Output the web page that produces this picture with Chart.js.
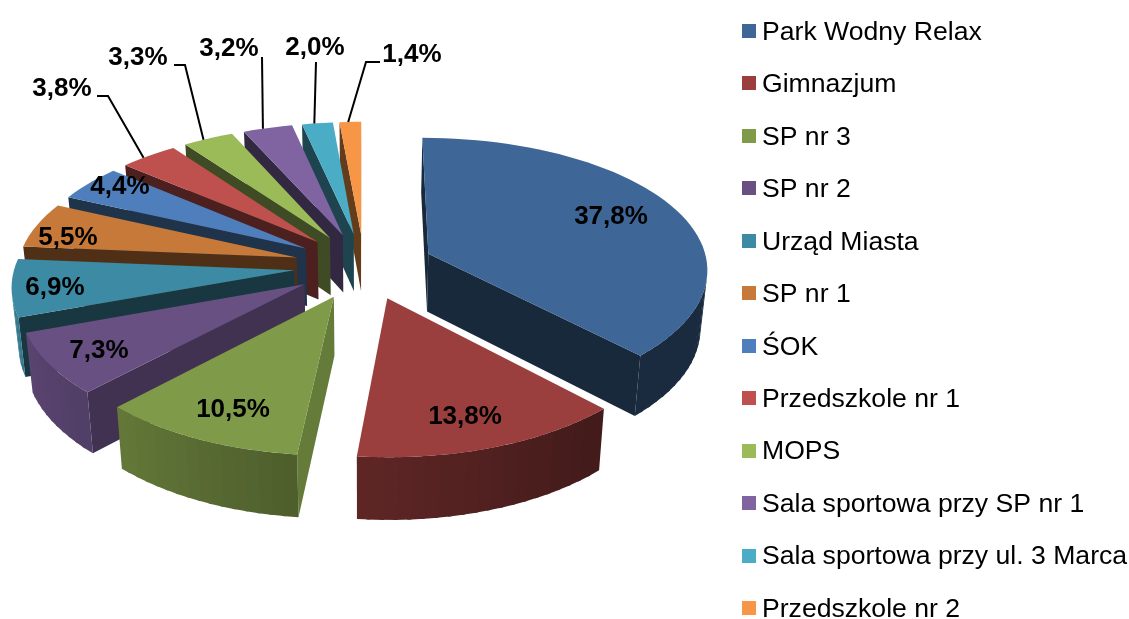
<!DOCTYPE html>
<html>
<head>
<meta charset="utf-8">
<style>
  html, body { margin: 0; padding: 0; background: #fff; }
  canvas { display: block; }
</style>
<script src="https://cdn.jsdelivr.net/npm/chart.js@4/dist/chart.umd.min.js"></script>
</head>
<body>
<canvas id="pie3d" width="1129" height="619"></canvas>
<script>
const categories = ['Park Wodny Relax', 'Gimnazjum', 'SP nr 3', 'SP nr 2', 'Urząd Miasta', 'SP nr 1', 'ŚOK',
    'Przedszkole nr 1', 'MOPS', 'Sala sportowa przy SP nr 1', 'Sala sportowa przy ul. 3 Marca', 'Przedszkole nr 2'];
const shares = [37.8, 13.8, 10.5, 7.3, 6.9, 5.5, 4.4, 3.8, 3.3, 3.2, 2.0, 1.4];
const sliceColors = ['#3e6797', '#9a3f3d', '#7f9a48', '#685083', '#3c8aa3', '#c67938', '#4e7fbc', '#be504d',
    '#9bbb59', '#8064a2', '#4bacc6', '#f79646'];

// where each percentage text sits, and where its leader line starts (if it has one)
const labelSpots = [[611, 217], [465, 417], [233, 410], [99, 351], [55, 288], [68, 238], [120, 187],
    [62, 89], [138, 58], [229, 49], [315, 48], [412, 55]];
const leaderStarts = [null, null, null, null, null, null, null,
    [[97, 96], [108, 96]], [[174, 65], [185, 65]], [[262, 57]], [[316, 62]], [[380, 62], [366, 62]]];

// look of the tilted pie
const view = { cx: 364, cy: 266, radius: 279.5, explode: 70, tilt: 0.473, persp: 0.000419, perspX: 0.00037, depth: 58, shrink: 0.98 };

// wall brightness against the direction the wall faces (degrees clockwise from the top)
const arcShade = [[0, 0.4], [136, 0.42], [186, 0.61], [223, 0.78], [250, 0.86], [280, 0.95], [360, 0.95]];
const sideShade = [[0, 0.4], [95, 0.8], [134, 0.62], [160, 0.4], [360, 0.4]];

function lookup(table, deg) {
    deg = ((deg % 360) + 360) % 360;
    for (let i = 1; i < table.length; i++) {
        if (deg <= table[i][0]) {
            const t = (deg - table[i - 1][0]) / (table[i][0] - table[i - 1][0]);
            return table[i - 1][1] + t * (table[i][1] - table[i - 1][1]);
        }
    }
    return table[table.length - 1][1];
}

function darker(hex, f) {
    const n = parseInt(hex.slice(1), 16);
    return 'rgb(' + Math.round((n >> 16) * f) + ',' + Math.round(((n >> 8) & 255) * f) + ',' + Math.round((n & 255) * f) + ')';
}

function project(X, Y, low) {
    const s = 1 / (1 - view.persp * Y);
    const sx = 1 / (1 - view.perspX * Y);
    return {
        x: view.cx + X * sx * (low ? view.shrink : 1),
        y: view.cy + view.tilt * Y * s + (low ? view.depth * Math.sqrt(s) : 0)
    };
}

function fillPoly(ctx, pts, color) {
    ctx.beginPath();
    pts.forEach((p, i) => i ? ctx.lineTo(p.x, p.y) : ctx.moveTo(p.x, p.y));
    ctx.closePath();
    ctx.fillStyle = color;
    ctx.fill();
}

function winding(pts) {
    let sum = 0;
    pts.forEach((p, i) => {
        const q = pts[(i + 1) % pts.length];
        sum += p.x * q.y - q.x * p.y;
    });
    return sum;
}

const toDeg = a => (a + Math.PI / 2) * 180 / Math.PI;

function sliceGeometry(arc) {
    const mid = (arc.startAngle + arc.endAngle) / 2;
    const ox = Math.cos(mid) * view.explode, oy = Math.sin(mid) * view.explode;
    const at = (a, low) => project(ox + Math.cos(a) * view.radius, oy + Math.sin(a) * view.radius, low);
    const apex = low => project(ox, oy, low);
    return { mid, oy, at, apex };
}

function drawSlice(ctx, arc, color) {
    const g = sliceGeometry(arc);
    const a0 = arc.startAngle, a1 = arc.endAngle;
    const startWall = [g.apex(false), g.at(a0, false), g.at(a0, true), g.apex(true)];
    const endWall = [g.apex(false), g.at(a1, false), g.at(a1, true), g.apex(true)];
    if (winding(startWall) < 0) fillPoly(ctx, startWall, darker(color, lookup(sideShade, toDeg(a0) - 90)));
    if (winding(endWall) > 0) fillPoly(ctx, endWall, darker(color, lookup(sideShade, toDeg(a1) + 90)));

    const steps = Math.max(2, Math.ceil((a1 - a0) / (Math.PI / 72)));
    const top = [g.apex(false)];
    for (let i = 0; i < steps; i++) {
        const b0 = a0 + (a1 - a0) * i / steps, b1 = a0 + (a1 - a0) * (i + 1) / steps;
        // the next quad is laid over a small overlap so no seam shows
        const b2 = Math.min(a1, b1 + (b1 - b0) * 0.3);
        const quad = [g.at(b0, false), g.at(b2, false), g.at(b2, true), g.at(b0, true)];
        if (winding(quad) < 0) fillPoly(ctx, quad, darker(color, lookup(arcShade, toDeg((b0 + b1) / 2))));
        top.push(g.at(b0, false));
    }
    top.push(g.at(a1, false));
    fillPoly(ctx, top, color);
}

const pie3dPlugin = {
    id: 'pie3d',
    beforeDatasetsDraw(chart) {
        const ctx = chart.ctx;
        const arcs = chart.getDatasetMeta(0).data;
        const colors = chart.data.datasets[0].backgroundColor;
        const order = arcs.map((arc, i) => i).sort((a, b) =>
            sliceGeometry(arcs[a]).oy - sliceGeometry(arcs[b]).oy);
        ctx.save();
        order.forEach(i => drawSlice(ctx, arcs[i], colors[i]));
        ctx.restore();
        return false;
    },
    afterDraw(chart) {
        const ctx = chart.ctx;
        const arcs = chart.getDatasetMeta(0).data;
        const values = chart.data.datasets[0].data;
        ctx.save();
        // leader lines
        ctx.strokeStyle = '#000';
        ctx.lineWidth = 2;
        arcs.forEach((arc, i) => {
            if (!leaderStarts[i]) return;
            const g = sliceGeometry(arc);
            const end = g.at(arc.startAngle + (arc.endAngle - arc.startAngle) * 0.4, false);
            ctx.beginPath();
            leaderStarts[i].forEach((p, k) => k ? ctx.lineTo(p[0], p[1]) : ctx.moveTo(p[0], p[1]));
            ctx.lineTo(end.x, end.y);
            ctx.stroke();
        });
        // percentages
        ctx.font = 'bold 26px "Liberation Sans", Arial, sans-serif';
        ctx.fillStyle = '#000';
        ctx.textAlign = 'center';
        ctx.textBaseline = 'middle';
        values.forEach((v, i) => {
            ctx.fillText(v.toFixed(1).replace('.', ',') + '%', labelSpots[i][0], labelSpots[i][1]);
        });
        // legend, drawn here because its rows are taller than the built-in one can fit
        ctx.font = '26.6px "Liberation Sans", Arial, sans-serif';
        ctx.textAlign = 'left';
        chart.data.labels.forEach((name, i) => {
            const y = 31 + i * 52.45;
            ctx.fillStyle = chart.data.datasets[0].backgroundColor[i];
            ctx.fillRect(742, Math.round(y) - 7, 14, 14);
            ctx.fillStyle = '#000';
            ctx.fillText(name, 762, y + 1.5);
        });
        ctx.restore();
    }
};

new Chart(document.getElementById('pie3d'), {
    type: 'pie',
    data: {
        labels: categories,
        datasets: [{ data: shares, backgroundColor: sliceColors, borderWidth: 0 }]
    },
    options: {
        responsive: false,
        animation: false,
        plugins: { legend: { display: false }, tooltip: { enabled: false } }
    },
    plugins: [pie3dPlugin]
});
</script>
</body>
</html>
